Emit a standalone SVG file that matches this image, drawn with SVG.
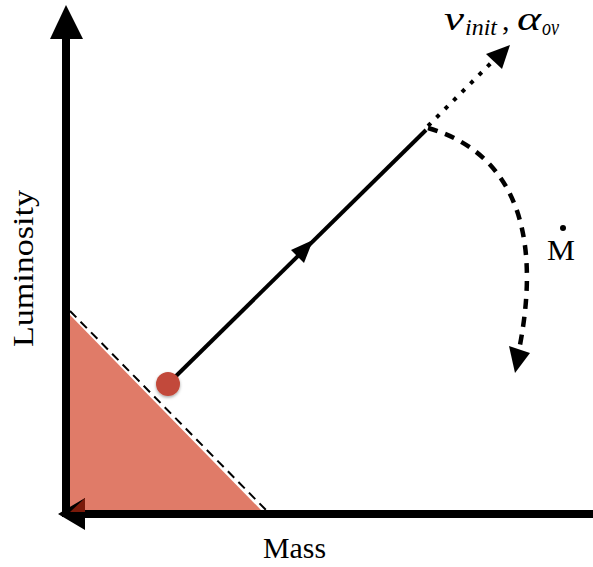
<svg xmlns="http://www.w3.org/2000/svg" width="593" height="567" viewBox="0 0 593 567">
<style>
.lbl{font-family:"Liberation Serif","Times New Roman",serif;fill:#000}
.it{font-style:italic}
.ax{stroke:#000;stroke-width:8;fill:none}
.conn{stroke:#000;stroke-width:4;fill:none}
</style>
<defs>
<filter id="sh" x="-50%" y="-50%" width="200%" height="200%"><feDropShadow dx="0" dy="1.5" stdDeviation="1.5" flood-color="#000" flood-opacity="0.35"/></filter>
</defs>
<rect width="593" height="567" fill="#fff"/>
<g id="region">
<polygon points="70,315 70,510 261,510" fill="#E07B68"/>
<line x1="70" y1="311" x2="267" y2="511" stroke="#000" stroke-width="2" stroke-dasharray="9,6"/>
</g>
<g id="axes">
<line class="ax" x1="66" y1="517" x2="66" y2="36"/>
<polygon points="66,5 50,39 83,39" fill="#000"/>
<line class="ax" x1="593" y1="514" x2="80" y2="514"/>
<polygon points="58,514 85,498 85,530" fill="#000"/>
<polygon points="70,512 85,498 85,512" fill="#7a1a0a"/>
</g>
<g id="connectors">
<line class="conn" x1="172" y1="380" x2="426" y2="130"/>
<polygon points="313,240 291,250 304,263" fill="#000"/>
<line x1="428" y1="126" x2="498" y2="56" stroke="#000" stroke-width="4" stroke-dasharray="4,8"/>
<polygon points="510,45 486,54 502,69" fill="#000"/>
<path d="M428,128 C505,150 545,220 519,350" stroke="#000" stroke-width="4.5" fill="none" stroke-dasharray="10,8"/>
<polygon points="515,373 509,346 530,353" fill="#000"/>
</g>
<g id="star">
<circle cx="168" cy="384" r="12" fill="#C24A3A" filter="url(#sh)"/>
</g>
<g id="labels">
<text class="lbl" x="263" y="558" font-size="29" textLength="63" lengthAdjust="spacingAndGlyphs">Mass</text>
<text class="lbl" transform="translate(33,347) rotate(-90)" font-size="29" textLength="157" lengthAdjust="spacingAndGlyphs">Luminosity</text>
<text class="lbl" x="547" y="260" font-size="29" textLength="28" lengthAdjust="spacingAndGlyphs">M</text>
<circle cx="563" cy="228" r="3" fill="#000"/>
<text class="lbl it" x="444" y="30" font-size="34" textLength="20" lengthAdjust="spacingAndGlyphs">v</text>
<text class="lbl it" x="465" y="35" font-size="23" textLength="32" lengthAdjust="spacingAndGlyphs">init</text>
<text class="lbl" x="502" y="30" font-size="30">,</text>
<text class="lbl it" x="517" y="30" font-size="34" font-weight="normal" textLength="24" lengthAdjust="spacingAndGlyphs">α</text>
<text class="lbl it" x="542" y="35" font-size="23" textLength="17" lengthAdjust="spacingAndGlyphs">ov</text>
</g>
</svg>
